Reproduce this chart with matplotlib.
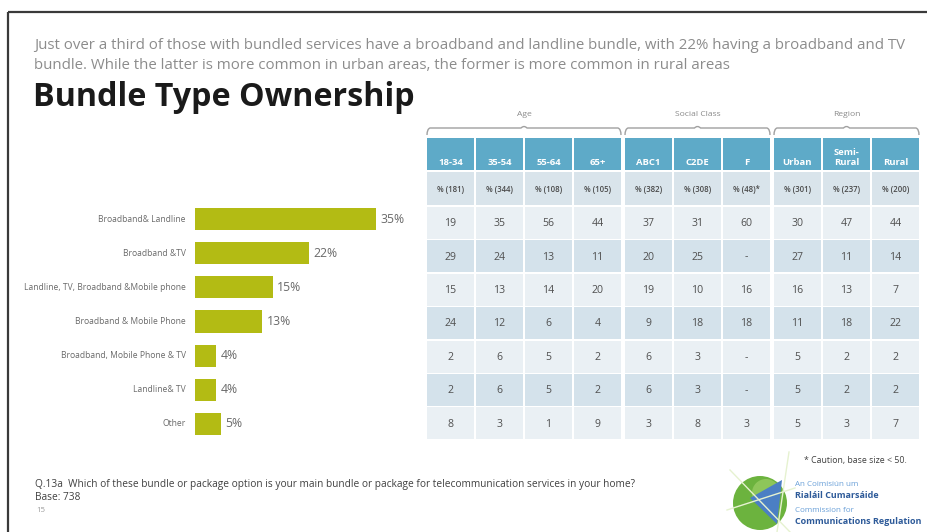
import matplotlib
matplotlib.use("Agg")
import matplotlib.pyplot as plt
from matplotlib.patches import Rectangle, Circle, Polygon
from matplotlib.path import Path
from matplotlib.patches import PathPatch

plt.rcParams["font.family"] = ["Open Sans", "DejaVu Sans"]

# ── Data ──────────────────────────────────────────────────────────────────────
bundles = ["Broadband& Landline", "Broadband &TV",
           "Landline, TV, Broadband &Mobile phone", "Broadband & Mobile Phone",
           "Broadband, Mobile Phone & TV", "Landline& TV", "Other"]
totals = [35, 22, 15, 13, 4, 4, 5]

groups = ["Age", "Social Class", "Region"]
group_cols = [4, 3, 3]
col_labels = ["18-34", "35-54", "55-64", "65+", "ABC1", "C2DE", "F",
              "Urban", "Semi-\nRural", "Rural"]
base_labels = ["% (181)", "% (344)", "% (108)", "% (105)", "% (382)",
               "% (308)", "% (48)*", "% (301)", "% (237)", "% (200)"]

row_bb_landline = ["19", "35", "56", "44", "37", "31", "60", "30", "47", "44"]
row_bb_tv       = ["29", "24", "13", "11", "20", "25", "-", "27", "11", "14"]
row_quad        = ["15", "13", "14", "20", "19", "10", "16", "16", "13", "7"]
row_bb_mobile   = ["24", "12", "6", "4", "9", "18", "18", "11", "18", "22"]
row_bb_mob_tv   = ["2", "6", "5", "2", "6", "3", "-", "5", "2", "2"]
row_landline_tv = ["2", "6", "5", "2", "6", "3", "-", "5", "2", "2"]
row_other       = ["8", "3", "1", "9", "3", "8", "3", "5", "3", "7"]
table_rows = [row_bb_landline, row_bb_tv, row_quad, row_bb_mobile,
              row_bb_mob_tv, row_landline_tv, row_other]

subtitle = ("Just over a third of those with bundled services have a broadband and landline bundle, "
            "with 22% having a broadband and TV\nbundle. While the latter is more common in "
            "urban areas, the former is more common in rural areas")
question = ("Q.13a  Which of these bundle or package option is your main bundle or package "
            "for telecommunication services in your home?")

# ── Colours ───────────────────────────────────────────────────────────────────
BAR_GREEN = "#b3bb14"
HEAD_BLUE = "#5eaac8"
ROW_LIGHT = "#eaf0f4"
ROW_DARK  = "#d4e2eb"
BASE_ROW  = "#d9e4eb"
TXT_DARK  = "#404040"
TXT_GREY  = "#8a8a8a"

W, H = 927, 532
fig = plt.figure(figsize=(W / 100, H / 100), dpi=100)
fig.patch.set_facecolor("white")

# pixel-space canvas for frame, titles and the table
ax = fig.add_axes([0, 0, 1, 1])
ax.set_xlim(0, W)
ax.set_ylim(H, 0)
ax.axis("off")

# frame
ax.plot([8, W], [12, 12], color="#3a3a3a", lw=1.6, solid_capstyle="butt")
ax.plot([8, 8], [12, H], color="#3a3a3a", lw=1.6, solid_capstyle="butt")

ax.text(34, 55.5, subtitle, fontsize=10.8, color="#8c8c8c", va="center",
        linespacing=1.38)
ax.text(33, 98, "Bundle Type Ownership", fontsize=23.2, fontweight="bold",
        color="#1a1a1a", va="center")

# ── Bar chart ─────────────────────────────────────────────────────────────────
bx = fig.add_axes([195 / W, 1 - 441 / H, 225 / W, 239 / H])
ypos = range(len(bundles))
bx.barh(ypos, totals, height=0.65, color=BAR_GREEN)
bx.set_xlim(0, 225 / 5.17)
bx.set_ylim(len(bundles) - 0.5, -0.5)
bx.axis("off")
for y, (name, v) in enumerate(zip(bundles, totals)):
    bx.text(v + 0.9, y, f"{v}%", fontsize=8.8, color="#6a6a6a", va="center")
    bx.text(-1.75, y, name, fontsize=6.15, color="#6a6a6a", va="center",
            ha="right", clip_on=False)

# ── Table ─────────────────────────────────────────────────────────────────────
col_w, gap, ggap = 47, 2, 4
lefts = []
x = 427
for n in group_cols:
    for _ in range(n):
        lefts.append(x)
        x += col_w + gap
    x += ggap - gap
group_spans = []
i = 0
for n in group_cols:
    group_spans.append((lefts[i], lefts[i + n - 1] + col_w))
    i += n

# group braces and labels
for (x0, x1), g in zip(group_spans, groups):
    xm = (x0 + x1) / 2
    verts = [(x0, 135), (x0, 129), (x0 + 3, 128), (xm - 3, 128), (xm, 125),
             (xm + 3, 128), (x1 - 3, 128), (x1, 129), (x1, 135)]
    codes = [Path.MOVETO, Path.CURVE3, Path.CURVE3, Path.LINETO, Path.CURVE3,
             Path.CURVE3, Path.LINETO, Path.CURVE3, Path.CURVE3]
    ax.add_patch(PathPatch(Path(verts, codes), fill=False, ec="#a0a0a0", lw=1.0))
    ax.text(xm, 115, g, fontsize=6.1, color=TXT_GREY, ha="center", va="center")

# header cells
for xl, lab in zip(lefts, col_labels):
    ax.add_patch(Rectangle((xl, 138), col_w, 32, fc=HEAD_BLUE, ec="none"))
    ax.text(xl + col_w / 2, 167, lab, fontsize=6.8, fontweight="bold",
            color="white", ha="center", va="bottom", linespacing=1.2)
    ax.add_patch(Rectangle((xl, 172), col_w, 33, fc=BASE_ROW, ec="none"))

for xl, lab in zip(lefts, base_labels):
    ax.text(xl + col_w / 2, 189, lab, fontsize=5.6, color="#4a4a4a",
            ha="center", va="center", fontweight="semibold")

row_h = 33.4
for r, vals in enumerate(table_rows):
    top = 207 + r * row_h
    fc = ROW_LIGHT if r % 2 == 0 else ROW_DARK
    for xl, v in zip(lefts, vals):
        ax.add_patch(Rectangle((xl, top), col_w, row_h - 1.5, fc=fc, ec="none"))
        ax.text(xl + col_w / 2, top + row_h / 2, v, fontsize=7.6,
                color="#505050", ha="center", va="center")

# ── Footer ────────────────────────────────────────────────────────────────────
ax.text(907, 461, "* Caution, base size < 50.", fontsize=6.3, color=TXT_DARK,
        ha="right", va="center")
ax.text(35, 485, question, fontsize=7.3, color=TXT_DARK, va="center")
ax.text(35, 498, "Base: 738", fontsize=7.3, color=TXT_DARK, va="center")
ax.text(36, 511, "15", fontsize=5.6, color="#9a9a9a", va="center")

# logo mark
ax.add_patch(Circle((760, 503), 27, fc="#6cb33e", ec="none"))
ax.add_patch(Circle((766, 493), 14, fc="#a6d46e", ec="none", alpha=0.6))
ax.add_patch(Polygon([(750, 498), (782, 480), (777, 524)], closed=True,
                     fc="#4b7fc4", ec="none"))
for (xa, ya), (xb, yb) in [((730, 470), (790, 532)), ((727, 510), (795, 488)),
                           ((789, 452), (777, 532))]:
    ax.plot([xa, xb], [ya, yb], color="#e6f2d0", lw=1.0)

ax.text(795, 485, "An Coimisiún um", fontsize=5.8, color="#6aa0d8", va="center")
ax.text(795, 496, "Rialáil Cumarsáide", fontsize=6.5, fontweight="bold",
        color="#2d5a99", va="center")
ax.text(795, 510, "Commission for", fontsize=5.8, color="#6aa0d8", va="center")
ax.text(795, 521, "Communications Regulation", fontsize=6.5, fontweight="bold",
        color="#2d5a99", va="center")

fig.savefig("out.png", dpi=100)
